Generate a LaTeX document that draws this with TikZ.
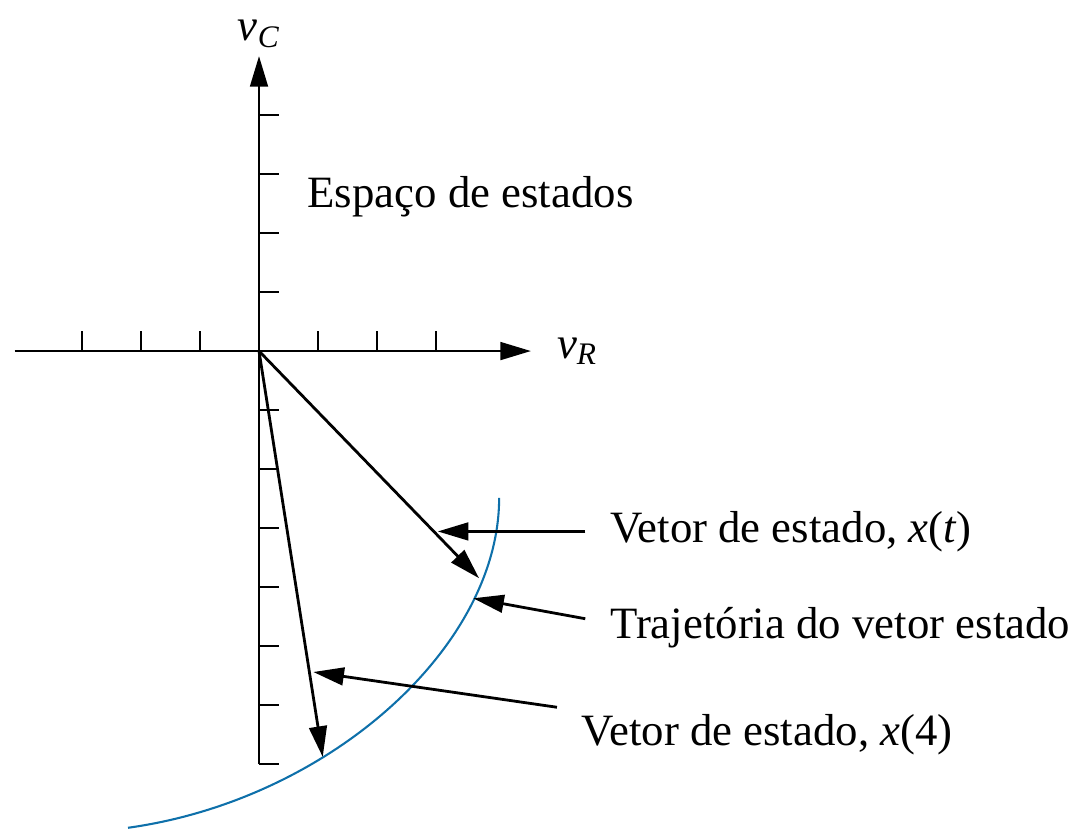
\documentclass[tikz,border=0pt]{standalone}
\usepackage{fontspec}
\setmainfont{Liberation Serif}
\usetikzlibrary{arrows.meta}
\definecolor{trajblue}{RGB}{14,112,170}
\tikzset{
    rotulo/.style={anchor=base west,inner xsep=0.4cm,inner ysep=0pt},
}
\begin{document}
\begin{tikzpicture}[>={Triangle[length=0.52cm,width=0.3cm]},line width=1.35pt,font=\fontsize{21.6}{26}\selectfont]
    \useasboundingbox (-4.39,-8.10) rectangle (14.0,5.95);
    % eixos e marcas
    \coordinate (o) at (0,0);
    \draw[->] (-4.14,0) -- (4.61,0) node[right=0.3cm] (vr) {\textit{v}\textsubscript{\textit{R}}};
    \draw[->] (0,-7) -- (0,5) node[above] (vc) {\textit{v}\textsubscript{\textit{C}}};
    \foreach \x in {-3,-2,-1,1,2,3} \draw (\x,0) -- (\x,0.34);
    \foreach \y in {-7,...,-1,1,2,3,4} \draw (0,\y) -- (0.34,\y);
    \node[rotulo,inner xsep=0pt] (espaco) at (0.80,2.44) {Espaço de estados};

    % trajetoria e vetores
    \draw[trajblue,line width=1pt] (4.07,-2.49) .. controls (4.07,-5.03) and (1.17,-7.61) .. (-2.22,-8.08);
    \coordinate (xt) at (3.73,-3.85);
    \coordinate (xq) at (1.08,-6.88);
    \draw[->] (o) -- (xt);
    \draw[->] (o) -- (xq);

    % rotulos com setas
    \node[rotulo] (lblxt) at (5.53,-3.24) {Vetor de estado, \textit{x}(\textit{t})};
    \node[rotulo] (lbltr) at (5.53,-4.88) {Trajetória do vetor estado};
    \node[rotulo] (lblxq) at (5.05,-6.69) {Vetor de estado, \textit{x}(4)};
    \coordinate (pxt) at (3.03,-3.03);
    \coordinate (ptr) at (3.63,-4.19);
    \coordinate (pxq) at (0.92,-5.44);
    \draw[->] (lblxt.west) -- (lblxt.west -| pxt);
    \draw[->] ([yshift=0.16cm]lbltr.west) -- (ptr);
    \draw[->] ([yshift=0.47cm]lblxq.west) -- (pxq);
\end{tikzpicture}
\end{document}
